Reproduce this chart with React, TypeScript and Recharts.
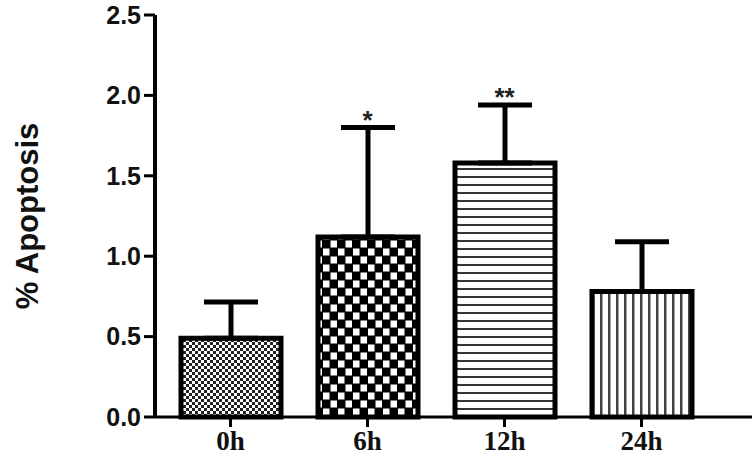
import { BarChart, Bar, XAxis, YAxis, Cell, ErrorBar, ReferenceDot } from "recharts";

const timepoints = ["0h", "6h", "12h", "24h"];
const apoptosis = [0.49, 1.12, 1.58, 0.78];
const errUp = [0.225, 0.68, 0.36, 0.31];
const significance = ["", "*", "**", ""];
const yTicks = [0, 0.5, 1.0, 1.5, 2.0, 2.5];

const data = timepoints.map((t, i) => ({
  time: t,
  value: apoptosis[i],
  err: [0, errUp[i]],
}));

const patternIds = ["fineChecker", "bigChecker", "hLines", "vLines"];

export default function App() {
  return (
    <div>
      <style>{`body{margin:0;background:#fff}`}</style>
      <BarChart
        width={752}
        height={468}
        data={data}
        margin={{ top: 15, right: 0, left: 0, bottom: 0 }}
      >
        <defs>
          <pattern id="fineChecker" width="6" height="6" patternUnits="userSpaceOnUse">
            <rect width="6" height="6" fill="#fff" />
            <rect x="0" y="0" width="3" height="3" fill="#222" />
            <rect x="3" y="3" width="3" height="3" fill="#222" />
          </pattern>
          <pattern id="bigChecker" width="15" height="16" patternUnits="userSpaceOnUse">
            <rect width="15" height="16" fill="#000" />
            <rect x="0.5" y="0.5" width="6.5" height="7" fill="#fff" />
            <rect x="8" y="8.5" width="6.5" height="7" fill="#fff" />
          </pattern>
          <pattern id="hLines" width="8" height="8" patternUnits="userSpaceOnUse">
            <rect width="8" height="8" fill="#fff" />
            <rect x="0" y="0" width="8" height="2" fill="#333" />
          </pattern>
          <pattern id="vLines" width="8" height="8" patternUnits="userSpaceOnUse">
            <rect width="8" height="8" fill="#fff" />
            <rect x="0" y="0" width="2.5" height="8" fill="#444" />
          </pattern>
        </defs>
        <XAxis
          dataKey="time"
          height={51}
          padding={{ left: 7, right: 42 }}
          axisLine={{ stroke: "#000", strokeWidth: 3 }}
          tickLine={{ stroke: "#000", strokeWidth: 3 }}
          tickSize={10}
          tickMargin={4}
          tick={{ fill: "#111", fontSize: 27, fontWeight: "bold", fontFamily: "Liberation Serif" }}
        />
        <YAxis
          width={155}
          domain={[0, 2.5]}
          ticks={yTicks}
          tickFormatter={(v: number) => v.toFixed(1)}
          axisLine={{ stroke: "#000", strokeWidth: 4 }}
          tickLine={{ stroke: "#000", strokeWidth: 3 }}
          tickSize={11}
          tickMargin={3}
          tick={{ fill: "#111", fontSize: 25, fontWeight: "bold", fontFamily: "Liberation Sans" }}
          label={({ viewBox }: any) => (
            <text
              x={38}
              y={viewBox.y + viewBox.height / 2}
              transform={`rotate(-90 38 ${viewBox.y + viewBox.height / 2})`}
              textAnchor="middle"
              fontSize={31}
              fontWeight="bold"
              fontFamily="Liberation Sans"
              fill="#111"
            >
              % Apoptosis
            </text>
          )}
        />
        <Bar
          dataKey="value"
          barSize={100}
          stroke="#000"
          strokeWidth={5}
          isAnimationActive={false}
        >
          {data.map((d, i) => (
            <Cell key={d.time} fill={`url(#${patternIds[i]})`} />
          ))}
          <ErrorBar dataKey="err" width={27} stroke="#000" strokeWidth={5} direction="y" />
        </Bar>
        {timepoints.map((t, i) =>
          significance[i] ? (
            <ReferenceDot
              key={t}
              x={t}
              y={apoptosis[i] + errUp[i]}
              r={0}
              stroke="none"
              label={{
                value: significance[i],
                position: "top",
                offset: -1,
                fill: "#222",
                fontSize: 26,
                fontWeight: "bold",
                fontFamily: "Liberation Sans",
              }}
            />
          ) : null
        )}
      </BarChart>
    </div>
  );
}
